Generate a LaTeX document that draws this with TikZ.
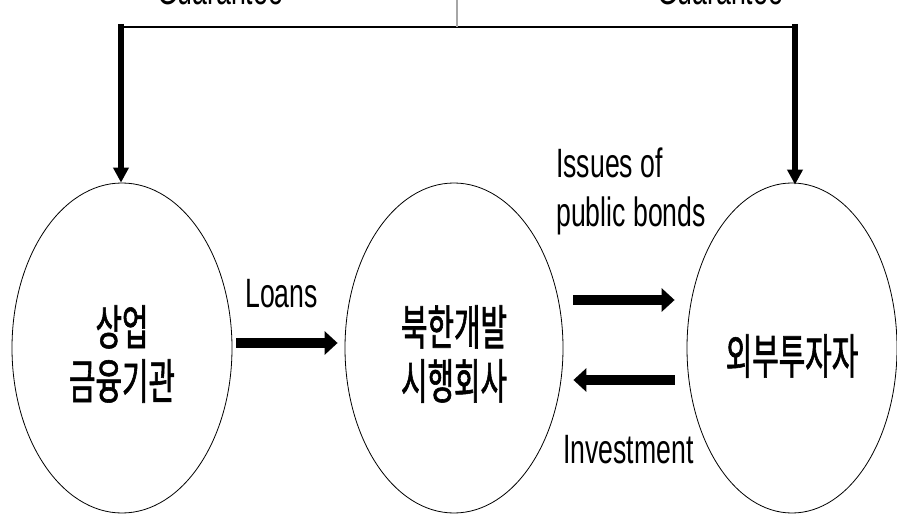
\documentclass[tikz,border=0pt]{standalone}
\usepackage{fontspec}
\setmainfont[FakeStretch=0.65]{Liberation Sans}
\newfontfamily\kr[FakeStretch=0.6,FakeBold=1.2]{Noto Sans CJK KR}
\usetikzlibrary{shapes.geometric,arrows.meta,positioning,calc}
\tikzset{
  oval/.style={draw=black, line width=0.8pt, ellipse, inner sep=0pt},
  entity/.style={font=\kr\fontsize{48}{54}\selectfont, align=center, inner sep=0pt},
  lbl/.style={font=\fontsize{41}{49}\selectfont, inner sep=0pt, anchor=base west},
  bigarrow/.style={line width=10pt, -{Triangle[length=13pt,width=23pt]}},
  downarrow/.style={line width=6pt, -{Triangle[length=15pt,width=15pt]}},
}
\begin{document}
\begin{tikzpicture}[x=1pt,y=1pt]
\useasboundingbox (0,0) rectangle (897,515);
\clip (0,0) rectangle (897,515);
\fill[white] (0,0) rectangle (897,515);
% ellipses
\node[oval, minimum width=220pt, minimum height=330pt] (L) at (122,167) {};
\node[oval, minimum width=218pt, minimum height=330pt] (M) at (454,167) {};
\node[oval, minimum width=210pt, minimum height=330pt] (R) at (792,167) {};
% entity texts
\node[entity] (Lt) at ([yshift=-6pt]L.center) {상업\\금융기관};
\node[entity] (Mt) at ([yshift=-6pt]M.center) {북한개발\\시행회사};
\node[entity] (Rt) at ([yshift=-8pt]R.center) {외부투자자};
% top guarantee structure
\coordinate (TL) at (121,488);
\coordinate (TR) at (795,488);
\coordinate (TT) at (457,515);
\coordinate (TM) at (457,488);
\draw[line width=1.4pt] ([xshift=-1pt]TL) -- ([xshift=1pt]TR);
\draw[gray!70, line width=1.2pt] (TT) -- (TM);
\draw[downarrow] ([yshift=3pt]TL) -- (TL |- L.north);
\draw[downarrow] ([yshift=3pt]TR) -- ([yshift=-2pt]TR |- R.north);
\node[lbl, anchor=base] (G1) at (220,510) {Guarantee};
\node[lbl, anchor=base] (G2) at (720,510) {Guarantee};
% horizontal arrows
\draw[bigarrow] ([shift={(4,5)}]L.east) -- ([shift={(-7,5)}]M.west);
\draw[bigarrow] ([shift={(10,48)}]M.east) -- ([shift={(-12,48)}]R.west);
\draw[bigarrow] ([shift={(-12,-32)}]R.west) -- ([shift={(10,-32)}]M.east);
% labels
\node[lbl] (loans) at (245,208) {Loans};
\node[lbl] (iss1) at (556,337) {Issues of};
\node[lbl] (iss2) at (556,288) {public bonds};
\node[lbl] (inv) at (563,52) {Investment};
\end{tikzpicture}
\end{document}
